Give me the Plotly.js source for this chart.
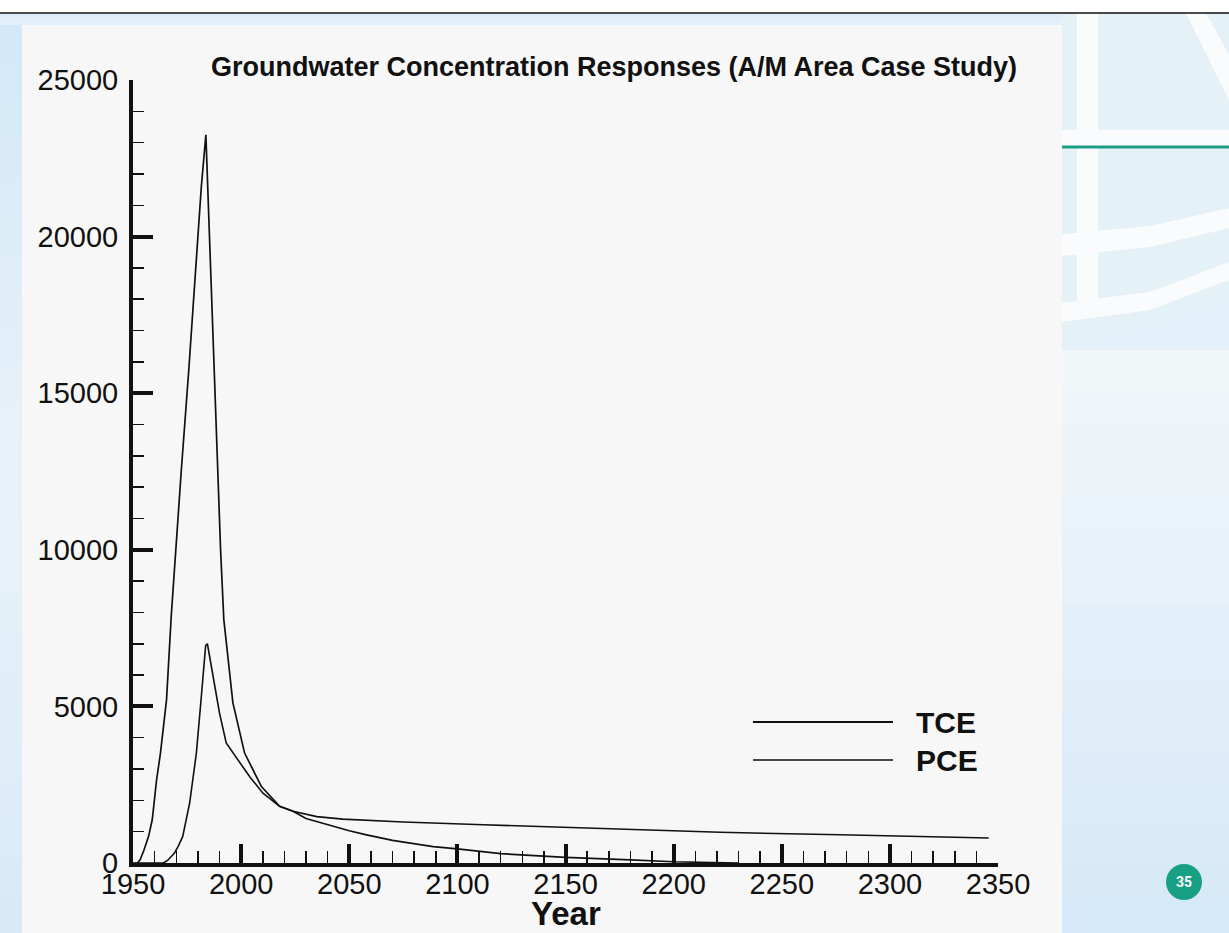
<!DOCTYPE html>
<html>
<head>
<meta charset="utf-8">
<script src="https://cdn.plot.ly/plotly-3.0.1.min.js"></script>
<style>
html, body { margin: 0; padding: 0; background: #ffffff; }
#chart { width: 1229px; height: 933px; }
</style>
</head>
<body>
<div id="chart"></div>
<script>
// ---------------- data ----------------
const chartTitle = 'Groundwater Concentration Responses (A/M Area Case Study)';
const xAxisTitle = 'Year';
const seriesNames = ['TCE', 'PCE'];
const pageNumber = '35';

const tceYears = [1952, 1953.3, 1955, 1957.2, 1958.9, 1960.9, 1962.7, 1965.5, 1967.7, 1969.7,
                  1972.3, 1975.8, 1978.8, 1981.6, 1983.7, 1985.1, 1987.8, 1990.5, 1992, 1993.6,
                  1996.2, 2001.6, 2009.4, 2017.8, 2024, 2030, 2042.5, 2050, 2058, 2070,
                  2088.8, 2100, 2120, 2150, 2180, 2200, 2230];
const tceValues = [0, 100, 400, 850, 1380, 2650, 3510, 5210, 7900, 10000,
                   12500, 15750, 18940, 21600, 23250, 20530, 15600, 10000, 7770, 6700,
                   5110, 3510, 2440, 1810, 1650, 1420, 1170, 1030, 900, 720,
                   520, 450, 300, 180, 100, 40, 0];

const pceYears = [1950, 1964, 1966, 1969.2, 1971, 1973, 1976.2, 1979.3, 1981.6, 1983.6,
                  1984.4, 1987, 1990, 1993.1, 1995.5, 1998.5, 2003.9, 2010.1, 2017.8, 2024,
                  2027, 2035, 2047, 2075, 2112, 2150, 2189, 2221.5, 2277, 2345.7];
const pceValues = [0, 0, 80, 320, 550, 850, 1915, 3510, 5320, 6950,
                   7000, 5960, 4790, 3830, 3600, 3300, 2760, 2230, 1810, 1650,
                   1600, 1480, 1400, 1310, 1220, 1130, 1060, 980, 900, 800];

const xRange = [1950, 2350];
const yRange = [0, 25000];

// ---------------- layout geometry ----------------
const W = 1229, H = 933;
const M = { l: 133, r: 231, t: 80, b: 70 };
const PW = W - M.l - M.r, PH = H - M.t - M.b;
const px = x => (x - M.l) / PW;
const py = y => (H - M.b - y) / PH;

function rect(x0, y0, x1, y1, color) {
  return { type: 'rect', xref: 'paper', yref: 'paper', layer: 'below',
           x0: px(x0), x1: px(x1), y0: py(y1), y1: py(y0),
           fillcolor: color, line: { width: 0 } };
}
function poly(pts, color) {
  const d = pts.map((p, i) => (i ? 'L' : 'M') + px(p[0]).toFixed(5) + ',' + py(p[1]).toFixed(5)).join(' ') + ' Z';
  return { type: 'path', xref: 'paper', yref: 'paper', layer: 'below', path: d,
           fillcolor: color, line: { width: 0 } };
}
function hline(x0, x1, y, color, w) {
  return { type: 'line', xref: 'paper', yref: 'paper', layer: 'above',
           x0: px(x0), x1: px(x1), y0: py(y), y1: py(y), line: { color: color, width: w } };
}
// soft vertical gradient made of thin bands
function vgrad(x0, x1, y0, y1, c0, c1, steps) {
  const out = [];
  const a = [parseInt(c0.slice(1, 3), 16), parseInt(c0.slice(3, 5), 16), parseInt(c0.slice(5, 7), 16)];
  const b = [parseInt(c1.slice(1, 3), 16), parseInt(c1.slice(3, 5), 16), parseInt(c1.slice(5, 7), 16)];
  for (let i = 0; i < steps; i++) {
    const t = i / (steps - 1);
    const c = a.map((v, k) => Math.round(v + (b[k] - v) * t));
    const ya = y0 + (y1 - y0) * i / steps, yb = y0 + (y1 - y0) * (i + 1) / steps + 0.6;
    out.push(rect(x0, ya, x1, yb, 'rgb(' + c.join(',') + ')'));
  }
  return out;
}

const paleBlue = '#e4f1f6';
const shapes = [].concat(
  [rect(0, 0, W, 13, '#ffffff')],
  vgrad(0, W, 13, 25, '#dcedf9', '#e3f0f9', 3),
  vgrad(0, 22, 25, 480, '#d3e8f8', '#e9f2f8', 12),
  vgrad(0, 22, 480, H, '#e9f2f8', '#d8eaf8', 12),
  vgrad(1062, W, 350, H, '#f1f6f9', '#d6e9f8', 16),
  [
    // globe watermark on the right
    poly([[1062, 13], [1229, 13], [1229, 300], [1180, 318], [1120, 334], [1062, 346]], paleBlue),
    rect(1077, 13, 1098, 303, '#f9fbfc'),
    rect(1062, 130, W, 146, '#f9fbfc'),
    poly([[1062, 234], [1150, 226], [1229, 208], [1229, 228], [1150, 247], [1062, 256]], '#f9fbfc'),
    poly([[1062, 303], [1150, 292], [1229, 262], [1229, 280], [1150, 310], [1062, 322]], '#f9fbfc'),
    poly([[1186, 13], [1206, 13], [1229, 55], [1229, 100]], '#f9fbfc'),
    // scanned chart panel
    rect(22, 25, 1062, H, '#f7f7f7'),
    // teal accent line and black top rule
    hline(1062, W, 147, '#1c9e85', 3),
    hline(0, W, 13, '#111111', 1.5),
    // manual legend lines
    hline(753, 893, 722, '#111111', 2.2),
    hline(753, 893, 760, '#111111', 1.5),
    // page number circle
    { type: 'circle', xref: 'paper', yref: 'paper', layer: 'above',
      x0: px(1166), x1: px(1202), y0: py(900), y1: py(864),
      fillcolor: '#17a083', line: { width: 0 } }
  ]
);

const annotations = [
  { xref: 'paper', yref: 'paper', x: 0.5, y: py(913), xanchor: 'center', yanchor: 'middle',
    text: xAxisTitle, showarrow: false,
    font: { family: 'Liberation Sans, Arial, sans-serif', size: 33, weight: 'bold', color: '#111111' } },
  { xref: 'paper', yref: 'paper', x: px(914), y: py(722), xanchor: 'left', yanchor: 'middle',
    text: seriesNames[0], showarrow: false,
    font: { family: 'Liberation Sans, Arial, sans-serif', size: 30, weight: 'bold', color: '#111111' } },
  { xref: 'paper', yref: 'paper', x: px(914), y: py(760), xanchor: 'left', yanchor: 'middle',
    text: seriesNames[1], showarrow: false,
    font: { family: 'Liberation Sans, Arial, sans-serif', size: 30, weight: 'bold', color: '#111111' } },
  { xref: 'paper', yref: 'paper', x: px(1184), y: py(882), xanchor: 'center', yanchor: 'middle',
    text: pageNumber, showarrow: false,
    font: { family: 'Roboto, Liberation Sans, sans-serif', size: 14, weight: 'bold', color: '#ffffff' } }
];

const traces = [
  { x: tceYears, y: tceValues, name: seriesNames[0], type: 'scatter', mode: 'lines',
    line: { color: '#111111', width: 1.7 }, hoverinfo: 'skip' },
  { x: pceYears, y: pceValues, name: seriesNames[1], type: 'scatter', mode: 'lines',
    line: { color: '#111111', width: 1.6 }, hoverinfo: 'skip' }
];

const tickFont = { family: 'Liberation Sans, Arial, sans-serif', size: 29, color: '#111111' };

const layout = {
  width: W, height: H,
  margin: M,
  paper_bgcolor: '#e4f1fa',
  plot_bgcolor: 'rgba(0,0,0,0)',
  showlegend: false,
  title: {
    text: chartTitle,
    xref: 'container', yref: 'container',
    x: 614 / W, xanchor: 'center',
    y: 1 - 67 / H, yanchor: 'middle',
    font: { family: 'Liberation Sans, Arial, sans-serif', size: 27, weight: 'bold', color: '#111111' }
  },
  xaxis: {
    range: xRange, tick0: 1950, dtick: 50, tickmode: 'linear',
    ticks: 'inside', ticklen: 19, tickwidth: 4, tickcolor: '#111111',
    minor: { dtick: 10, ticks: 'inside', ticklen: 12, tickwidth: 1.5, tickcolor: '#111111', showgrid: false },
    showline: true, linewidth: 4, linecolor: '#111111',
    showgrid: false, zeroline: false,
    tickfont: tickFont, ticklabelstandoff: -8,
    fixedrange: true
  },
  yaxis: {
    range: yRange, tick0: 0, dtick: 5000, tickmode: 'linear', tickformat: 'd',
    ticks: 'inside', ticklen: 20, tickwidth: 4, tickcolor: '#111111',
    minor: { dtick: 1000, ticks: 'inside', ticklen: 11, tickwidth: 1.5, tickcolor: '#111111', showgrid: false },
    showline: true, linewidth: 4, linecolor: '#111111',
    showgrid: false, zeroline: false,
    tickfont: tickFont, ticklabelstandoff: 5,
    fixedrange: true
  },
  shapes: shapes,
  annotations: annotations
};

Plotly.newPlot('chart', traces, layout, { displayModeBar: false, staticPlot: true });
</script>
</body>
</html>
